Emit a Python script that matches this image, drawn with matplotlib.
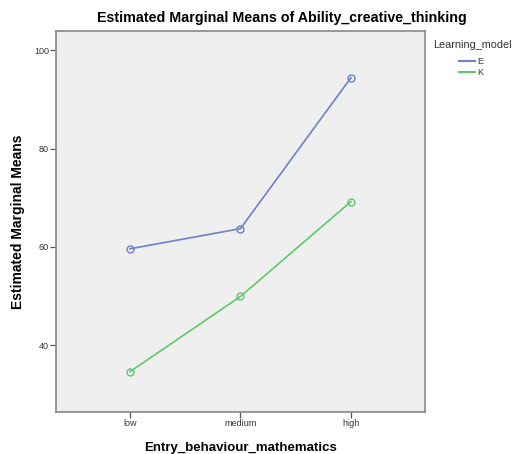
import matplotlib

matplotlib.use("Agg")
import matplotlib.pyplot as plt  # noqa: E402
from matplotlib.lines import Line2D  # noqa: E402

categories = ["low", "medium", "high"]
series_names = ["E", "K"]
values_e = [59.6, 63.7, 94.4]
values_k = [34.6, 49.9, 69.2]
yticks = [40, 60, 80, 100]

colors = {"E": "#6f80c8", "K": "#5cc96a"}

plt.rcParams["font.family"] = ["Liberation Sans", "DejaVu Sans"]

fig = plt.figure(figsize=(5.16, 4.54), dpi=100)
ax = fig.add_axes([0.1085, 0.0925, 0.715, 0.8392])
ax.set_facecolor("#efefef")

x = list(range(len(categories)))
for name, vals in zip(series_names, [values_e, values_k]):
    ax.plot(x, vals, color=colors[name], lw=1.2, marker="o", ms=5,
            mfc="none", mec=colors[name], mew=1.0)

ax.set_xlim(-0.67, 2.67)
ax.set_ylim(26.4, 103.9)
ax.set_xticks(x)
ax.set_xticklabels(categories, fontsize=6.5, color="#333333")
ax.set_yticks(yticks)
ax.set_yticklabels([str(t) for t in yticks], fontsize=6.5, color="#333333")
ax.tick_params(length=4, width=0.9, color="#555555", pad=1)
for s in ax.spines.values():
    s.set_color("#888888")
    s.set_linewidth(1.2)

ax.set_xlabel("Entry_behaviour_mathematics", fontsize=9.5, fontweight="bold")
ax.xaxis.set_label_coords(0.5, -0.078)
ax.set_ylabel("Estimated Marginal Means", fontsize=10, fontweight="bold")
ax.yaxis.set_label_coords(-0.085, 0.5)
fig.text(282 / 516, 1 - 18 / 454, "Estimated Marginal Means of Ability_creative_thinking",
         fontsize=10.3, fontweight="bold", ha="center", va="center")

# legend: title as text, entries indented below it
fig.text(433 / 516, 1 - 45 / 454, "Learning_model", fontsize=7.8,
         color="#333333", ha="left", va="center")
handles = [Line2D([], [], color=colors[n], lw=1.5) for n in series_names]
leg = fig.legend(handles, series_names, loc="upper left",
                 bbox_to_anchor=(0.889, 0.874), borderaxespad=0, borderpad=0,
                 fontsize=6.5, frameon=False, handlelength=1.8,
                 handletextpad=0.2, labelspacing=0.25)
for t in leg.get_texts():
    t.set_color("#333333")

fig.savefig("out.png", dpi=100)
